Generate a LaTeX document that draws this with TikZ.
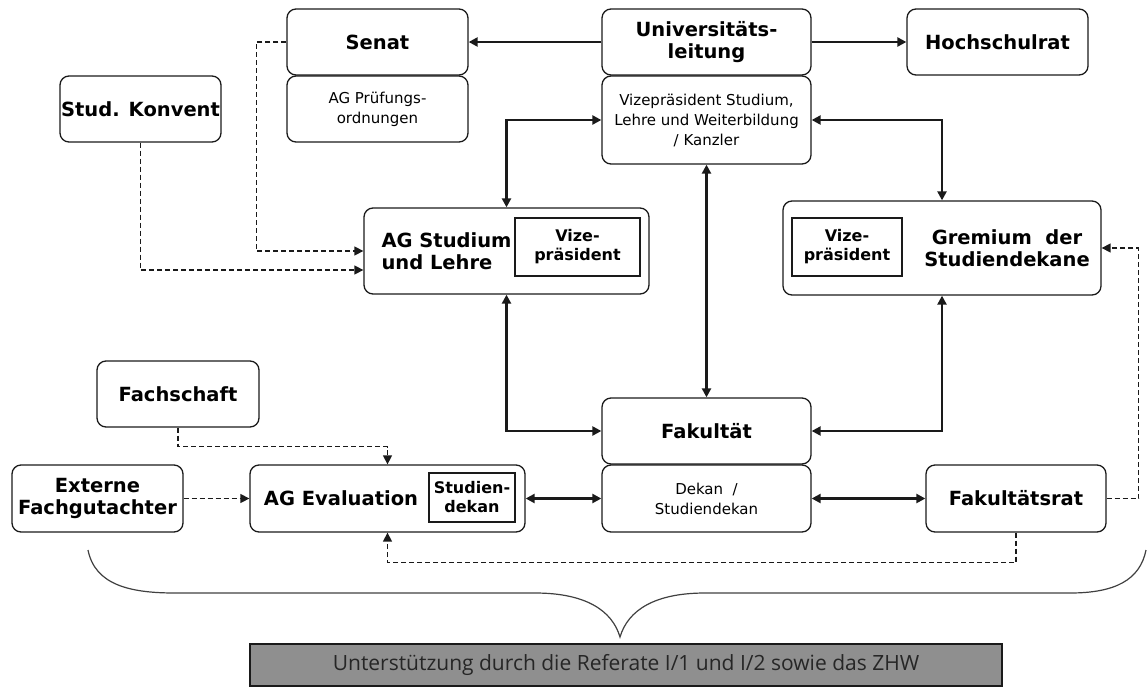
\documentclass[tikz,border=0pt]{standalone}
\usepackage{fontspec}
\setmainfont{DejaVu Sans}
\newfontfamily\greyfont{Open Sans}
\usetikzlibrary{arrows.meta}
\definecolor{boxgrey}{HTML}{8F8F8F}
\definecolor{lineblack}{HTML}{1A1A1A}
\tikzset{
  box/.style={draw=lineblack, line width=1.3pt, rounded corners=9pt, inner sep=0pt, align=center, minimum width=#1},
  innerbox/.style={draw=lineblack, line width=1.3pt, inner sep=0pt, align=center, minimum width=#1},
  ttl/.style={font=\fontsize{19.5}{22}\selectfont\bfseries, align=center},
  ibold/.style={font=\fontsize{16}{19}\selectfont\bfseries},
  sml/.style={font=\fontsize{15}{20}\selectfont},
  tip/.style={-{Triangle[length=9pt,width=9pt]}},
  dtip/.style={{Triangle[length=9pt,width=9pt]}-{Triangle[length=9pt,width=9pt]}},
  solidc/.style={line width=2.3pt, draw=lineblack},
  dashc/.style={line width=1.4pt, draw=lineblack, dash pattern=on 5pt off 3pt},
}
\begin{document}
\begin{tikzpicture}[x=1pt,y=-1pt]
\useasboundingbox (0,0) rectangle (1147,688);
% top row
\node[box=181pt, minimum height=66pt, ttl] (senat) at (377.5,42) {Senat};
\node[box=181pt, minimum height=66pt, sml] (agpo) at (377.5,109) {AG Prüfungs-\\ordnungen};
\node[box=161pt, minimum height=66pt, ttl] (konvent) at (140.5,109) {Stud. Konvent};
\node[box=209pt, minimum height=66pt, ttl] (uni) at (706.5,42) {Universitäts-\\leitung};
\node[box=209pt, minimum height=88pt, sml] (vp) at (706.5,120) {Vizepräsident Studium,\\Lehre und Weiterbildung\\/ Kanzler};
\node[box=181pt, minimum height=66pt, ttl] (hsr) at (997.5,42) {Hochschulrat};
% middle
\node[box=285pt, minimum height=86pt] (agsl) at (506.5,251) {};
\node[ttl, anchor=west, align=left] (agsltxt) at (378,251) {AG Studium\\und Lehre};
\node[innerbox=125pt, minimum height=58pt, ibold] (agslvp) at (577.5,247) {Vize-\\präsident};
\node[box=318pt, minimum height=94pt] (grem) at (942,248) {};
\node[innerbox=110pt, minimum height=58pt, ibold] (gremvp) at (847,247) {Vize-\\präsident};
\node[ttl] (gremtxt) at (1007,248) {Gremium~~der\\Studiendekane};
% lower
\node[box=162pt, minimum height=66pt, ttl] (fach) at (178,394) {Fachschaft};
\node[box=171pt, minimum height=67pt, ttl] (ext) at (97.5,498.5) {Externe\\Fachgutachter};
\node[box=275pt, minimum height=67pt] (ageval) at (387.5,498.5) {};
\node[ttl] (agevaltxt) at (341,498.5) {AG Evaluation};
\node[innerbox=86pt, minimum height=49pt, ibold] (agevalsd) at (472,497.5) {Studien-\\dekan};
\node[box=209pt, minimum height=66pt, ttl] (fak) at (706.5,431) {Fakultät};
\node[box=209pt, minimum height=67pt, sml] (dekan) at (706.5,498.5) {Dekan~~/\\Studiendekan};
\node[box=180pt, minimum height=67pt, ttl] (frat) at (1016,498.5) {Fakultätsrat};
% grey support box
\node[draw=lineblack, line width=1.3pt, fill=boxgrey, minimum width=752pt, minimum height=42pt, inner sep=0pt,
      font=\greyfont\fontsize{21}{24}\selectfont, text=black!85] (support) at (626,665) {Unterstützung durch die Referate I/1 und I/2 sowie das ZHW};
% solid connectors
\draw[solidc, tip] (uni.west) -- (senat.east);
\draw[solidc, tip] (uni.east) -- (hsr.west);
\draw[solidc, dtip] (vp.west) -| (agsl.north);
\draw[solidc, dtip] (vp.east) -| (grem.north);
\draw[solidc, dtip] (vp.south) -- (fak.north);
\draw[solidc, dtip] (agsl.south) |- (fak.west);
\draw[solidc, dtip] (grem.south) |- (fak.east);
\draw[solidc, dtip] (ageval.east) -- (dekan.west);
\draw[solidc, dtip] (dekan.east) -- (frat.west);
% dashed connectors
\draw[dashc, tip] (senat.west) -- ++(-30,0) |- (agsl.west);
\draw[dashc, tip] (konvent.south) |- ([yshift=-19pt]agsl.west);
\draw[dashc, tip] (fach.south) -- ++(0,19) -| (ageval.north);
\draw[dashc, tip] (ext.east) -- (ageval.west);
\draw[dashc, tip] (frat.south) -- ++(0,30) -| (ageval.south);
\draw[dashc, tip] (frat.east) -- ++(32,0) |- (grem.east);
% brace
\coordinate (braceL) at (88,550);
\coordinate (braceR) at (1146,550);
\coordinate (braceT) at (620,637);
\draw[line width=1.2pt, draw=black!75] (braceL) .. controls (95,585) and (130,593) .. (175,593) -- (535,593)
  .. controls (585,593) and (612,610) .. (braceT)
  .. controls (628,610) and (655,593) .. (705,593) -- (1070,593)
  .. controls (1115,593) and (1140,580) .. (braceR);
\end{tikzpicture}
\end{document}
